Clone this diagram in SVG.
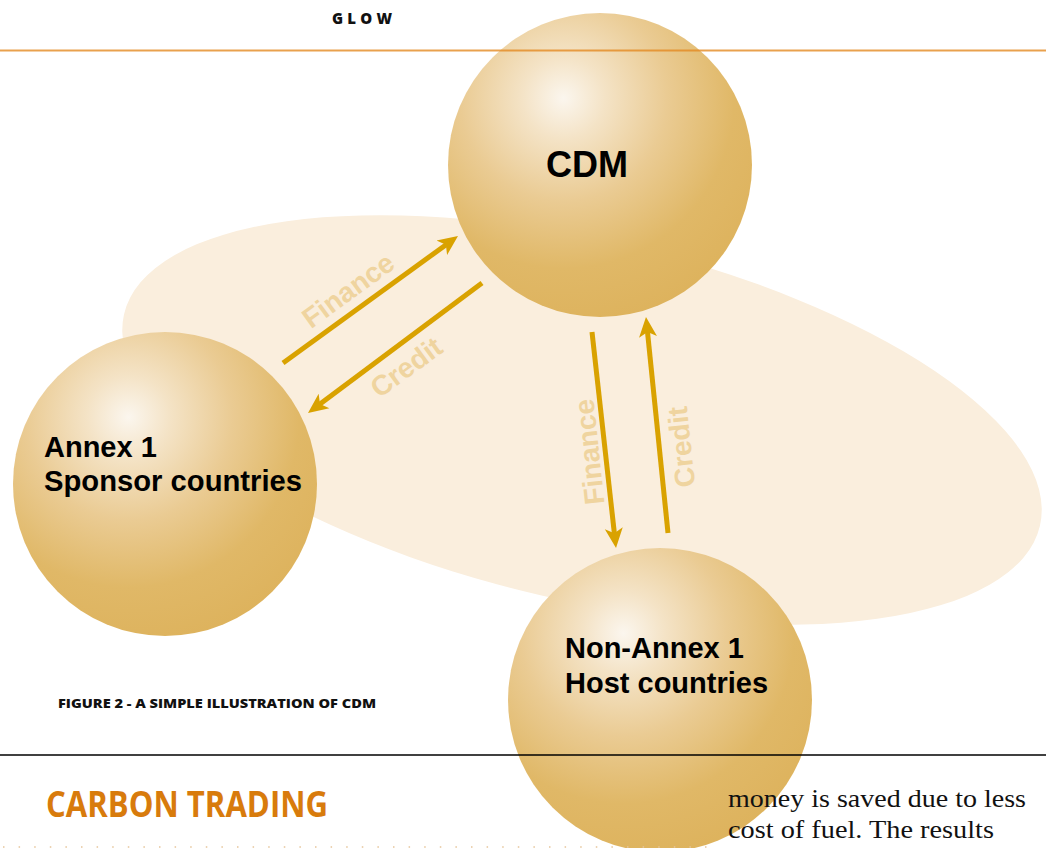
<svg xmlns="http://www.w3.org/2000/svg" width="1052" height="848" viewBox="0 0 1052 848">
  <defs>
    <radialGradient id="sphere" cx="0.38" cy="0.28" r="0.85" fx="0.38" fy="0.28">
      <stop offset="0" stop-color="#FBF6EE"/>
      <stop offset="0.16" stop-color="#F4E3C6"/>
      <stop offset="0.4" stop-color="#EACB93"/>
      <stop offset="0.66" stop-color="#E0B867"/>
      <stop offset="1" stop-color="#DCB058"/>
    </radialGradient>
    <marker id="head" viewBox="0 -10 22 20" refX="10" refY="0" markerWidth="22" markerHeight="20" markerUnits="userSpaceOnUse" orient="auto">
      <path d="M0,-9 L20,0 L0,9 L5,0 Z" fill="#D9A200"/>
    </marker>
  </defs>
  <style>
    .node-label { font-family: "Liberation Sans", Arial, sans-serif; font-weight: bold; fill: #000; }
    .flow { stroke: #D9A200; stroke-width: 5; fill: none; marker-end: url(#head); }
    .flow-label { font-family: "Liberation Sans", Arial, sans-serif; font-weight: bold; font-size: 28px; fill: #EFD49F; text-anchor: middle; }
  </style>

  <rect width="1052" height="848" fill="#FFFFFF"/>

  <!-- page header -->
  <text x="332" y="24" font-family="'Open Sans', sans-serif" font-weight="800" font-size="15" textLength="60" lengthAdjust="spacing" fill="#111">GLOW</text>

  <!-- pale field behind the three parties -->
  <ellipse cx="582" cy="420" rx="470" ry="180" transform="rotate(13 582 420)" fill="#FAEEDD"/>

  <!-- connectors -->
  <g id="connectors">
    <line class="flow" x1="283" y1="363" x2="449.9" y2="241.9"/>
    <line class="flow" x1="482" y1="283" x2="316" y2="407"/>
    <line class="flow" x1="592" y1="332" x2="614.9" y2="538.1"/>
    <line class="flow" x1="668" y1="533" x2="647" y2="327"/>
    <g transform="translate(348 290) rotate(-36)"><text class="flow-label" x="0" y="10">Finance</text></g>
    <g transform="translate(406 367) rotate(-36)"><text class="flow-label" x="0" y="10">Credit</text></g>
    <g transform="translate(589 452) rotate(-96)"><text class="flow-label" x="0" y="10">Finance</text></g>
    <g transform="translate(681 447) rotate(-96)"><text class="flow-label" x="0" y="10">Credit</text></g>
  </g>

  <!-- parties -->
  <g id="cdm">
    <circle cx="600" cy="165" r="152" fill="url(#sphere)"/>
    <text class="node-label" x="546" y="177" font-size="36">CDM</text>
  </g>
  <g id="annex1">
    <circle cx="165" cy="484" r="152" fill="url(#sphere)"/>
    <text class="node-label" x="44" y="457" font-size="29">Annex 1</text>
    <text class="node-label" x="44" y="491" font-size="29" textLength="258" lengthAdjust="spacingAndGlyphs">Sponsor countries</text>
  </g>
  <g id="non-annex1">
    <circle cx="660" cy="700" r="152" fill="url(#sphere)"/>
    <text class="node-label" x="565" y="658" font-size="29">Non-Annex 1</text>
    <text class="node-label" x="565" y="693" font-size="29">Host countries</text>
  </g>

  <!-- page rules -->
  <line x1="0" y1="50.5" x2="1046" y2="50.5" stroke="#E38A22" stroke-opacity="0.8" stroke-width="2"/>
  <line x1="0" y1="755" x2="1046" y2="755" stroke="#000" stroke-width="1.5"/>
  <line x1="3" y1="847" x2="720" y2="847" stroke="#E6C59A" stroke-width="1.5" stroke-dasharray="1.5 14.1"/>

  <!-- caption and page text -->
  <text x="58" y="708" font-family="'Open Sans', sans-serif" font-weight="800" font-size="13" textLength="318" lengthAdjust="spacingAndGlyphs" fill="#111">FIGURE 2 - A SIMPLE ILLUSTRATION OF CDM</text>
  <text x="46" y="817" font-family="'Open Sans', sans-serif" font-weight="bold" font-size="35" textLength="282" lengthAdjust="spacingAndGlyphs" fill="#D87B0C">CARBON TRADING</text>
  <text x="728" y="807" font-family="'Liberation Serif', 'Times New Roman', serif" font-size="26" textLength="298" lengthAdjust="spacingAndGlyphs" fill="#111">money is saved due to less</text>
  <text x="728" y="838" font-family="'Liberation Serif', 'Times New Roman', serif" font-size="26" textLength="266" lengthAdjust="spacingAndGlyphs" fill="#111">cost of fuel. The results</text>
</svg>
